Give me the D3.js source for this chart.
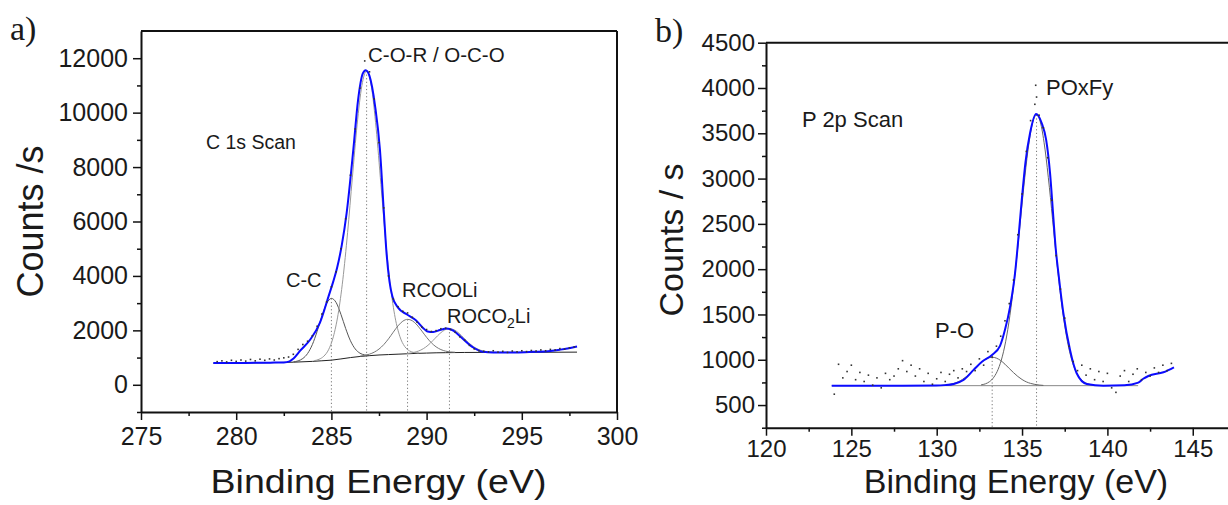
<!DOCTYPE html>
<html>
<head>
<meta charset="utf-8">
<script src="https://cdn.jsdelivr.net/npm/d3@7"></script>
<style>
  body { margin: 0; background: #fff; }
  svg { display: block; }
  text { font-family: "Liberation Sans", Arial, sans-serif; fill: #1a1a1a; }
</style>
</head>
<body>
<svg id="chart" width="1228" height="505"></svg>
<script>
// ---------- C 1s spectrum (panel a) ----------
const c1sXTicks = [275, 280, 285, 290, 295, 300];
const c1sXMinor = [277.5, 282.5, 287.5, 292.5, 297.5];
const c1sYTicks = [0, 2000, 4000, 6000, 8000, 10000, 12000];
const c1sYMinor = [-1000, 1000, 3000, 5000, 7000, 9000, 11000];

// fitted envelope
const c1sFitEnergy = [278.8, 279.5, 280.5, 281.5, 282.0, 282.5, 282.8, 283.0, 283.35, 283.9, 284.4, 284.85, 285.1, 285.3, 285.55, 285.8, 286.15, 286.4, 286.65, 286.8, 287.0, 287.3, 287.55, 287.75, 287.9, 288.05, 288.2, 288.5, 288.95, 289.45, 289.8, 290.05, 290.35, 290.7, 291.05, 291.4, 291.9, 292.45, 292.95, 293.5, 294.7, 295.6, 296.5, 297.0, 297.4, 297.9];
const c1sFitCounts = [800, 802, 805, 810, 815, 822, 860, 960, 1245, 1673, 2285, 3250, 3800, 4300, 5150, 6310, 8630, 10460, 11440, 11560, 11350, 10215, 8630, 6400, 4800, 3800, 3250, 2834, 2590, 2360, 2100, 1960, 1940, 2010, 2065, 1990, 1690, 1370, 1215, 1190, 1186, 1210, 1245, 1290, 1333, 1406];

// background
const c1sBgEnergy = [278.8, 280, 281, 282, 283, 284, 284.5, 285, 285.5, 286, 286.5, 287, 287.5, 288, 288.5, 289, 289.5, 290, 290.5, 291, 292, 293, 295, 297.9];
const c1sBgCounts = [795, 800, 805, 815, 830, 860, 882, 905, 950, 1000, 1040, 1070, 1095, 1110, 1125, 1140, 1155, 1165, 1175, 1180, 1188, 1190, 1192, 1200];

// component peaks (on top of background)
const ccEnergy = [283.0, 283.25, 283.5, 283.75, 284.0, 284.25, 284.5, 284.75, 285.0, 285.25, 285.5, 285.75, 286.0, 286.25, 286.5, 286.75, 287.0];
const ccCounts = [840, 879, 966, 1150, 1478, 1962, 2522, 2986, 3175, 3021, 2590, 2067, 1618, 1318, 1161, 1097, 1075];

const corEnergy = [284.1, 284.35, 284.6, 284.85, 285.1, 285.35, 285.6, 285.85, 286.1, 286.35, 286.6, 286.85, 287.1, 287.35, 287.6, 287.85, 288.1, 288.35, 288.6, 288.85, 289.1, 289.35, 289.6];
const corCounts = [886, 937, 1049, 1286, 1760, 2585, 3859, 5589, 7604, 9551, 10992, 11532, 10964, 9421, 7363, 5308, 3627, 2462, 1767, 1407, 1246, 1185, 1170];

const rcooliEnergy = [286.5, 286.75, 287.0, 287.25, 287.5, 287.75, 288.0, 288.25, 288.5, 288.75, 289.0, 289.25, 289.5, 289.75, 290.0, 290.25, 290.5, 290.75, 291.0, 291.25, 291.5];
const rcooliCounts = [1050, 1079, 1126, 1199, 1313, 1476, 1689, 1933, 2166, 2337, 2405, 2352, 2196, 1975, 1744, 1543, 1393, 1294, 1236, 1207, 1195];

const rocoEnergy = [288.95, 289.2, 289.45, 289.7, 289.95, 290.2, 290.45, 290.7, 290.95, 291.2, 291.45, 291.7, 291.95, 292.2, 292.45, 292.7, 292.95, 293.2, 293.45];
const rocoCounts = [1148, 1172, 1211, 1278, 1383, 1532, 1710, 1884, 2015, 2065, 2020, 1893, 1723, 1551, 1409, 1308, 1248, 1215, 1200];

// peak centres and heights for the drop lines
const c1sPeakEnergy = [285.0, 286.85, 289.0, 291.2];
const c1sPeakCounts = [3175, 11532, 2405, 2065];

// measured points
const c1sRawEnergy = [279.0, 279.25, 279.5, 279.75, 280.0, 280.25, 280.5, 280.75, 281.0, 281.25, 281.5, 281.75, 282.0, 282.25, 282.5, 282.75, 283.0, 283.25, 283.5, 283.75, 284.0, 284.25, 284.5, 284.75, 285.0, 285.25, 285.5, 285.75, 286.0, 286.25, 286.5, 286.75, 287.0, 287.25, 287.5, 287.75, 288.0, 288.25, 288.5, 288.75, 289.0, 289.25, 289.5, 289.75, 290.0, 290.25, 290.5, 290.75, 291.0, 291.25, 291.5, 291.75, 292.0, 292.25, 292.5, 292.75, 293.0, 293.25, 293.5, 293.75, 294.0, 294.25, 294.5, 294.75, 295.0, 295.25, 295.5, 295.75, 296.0, 296.25, 296.5, 296.75, 297.0, 297.25, 297.5, 297.75];
const c1sRawCounts = [850, 880, 840, 900, 860, 910, 870, 930, 880, 940, 900, 950, 910, 960, 990, 1020, 1120, 1300, 1480, 1600, 1800, 2150, 2600, 3050, 3600, 4150, 5000, 6100, 7700, 9400, 10900, 11900, 11500, 10500, 8900, 6500, 4000, 3150, 2870, 2700, 2640, 2480, 2300, 2120, 2030, 1960, 1990, 2060, 2080, 2030, 1930, 1760, 1640, 1450, 1320, 1250, 1230, 1210, 1250, 1200, 1230, 1190, 1240, 1210, 1250, 1220, 1260, 1240, 1280, 1250, 1300, 1280, 1330, 1310, 1360, 1390];

// ---------- P 2p spectrum (panel b) ----------
const p2pXTicks = [120, 125, 130, 135, 140, 145];
const p2pXMinor = [122.5, 127.5, 132.5, 137.5, 142.5];
const p2pYTicks = [500, 1000, 1500, 2000, 2500, 3000, 3500, 4000, 4500];
const p2pYMinor = [250, 750, 1250, 1750, 2250, 2750, 3250, 3750, 4250];

const p2pFitEnergy = [123.85, 126, 128, 130, 130.5, 131.0, 131.57, 132.16, 132.65, 133.24, 133.71, 134.0, 134.3, 134.59, 134.8, 135.0, 135.2, 135.47, 135.82, 136.15, 136.41, 136.64, 136.83, 136.97, 137.13, 137.42, 137.81, 138.2, 138.79, 139.76, 141.0, 141.81, 142.1, 142.4, 143.28, 143.9];
const p2pFitCounts = [714, 714, 714, 716, 720, 733, 777, 888, 979, 1053, 1153, 1330, 1587, 1956, 2370, 2800, 3180, 3503, 3713, 3614, 3430, 3061, 2581, 2232, 1956, 1514, 1109, 851, 733, 714, 718, 747, 790, 821, 862, 917];

const p2pBgEnergy = [123.85, 141.8];
const p2pBgCounts = [714, 714];

const poEnergy = [130.25, 130.5, 130.75, 131.0, 131.25, 131.5, 131.75, 132.0, 132.25, 132.5, 132.75, 133.0, 133.25, 133.5, 133.75, 134.0, 134.25, 134.5, 134.75, 135.0, 135.25, 135.5, 135.75, 136.0, 136.25];
const poCounts = [717, 721, 728, 739, 756, 782, 816, 858, 904, 951, 991, 1018, 1028, 1018, 991, 951, 904, 858, 816, 782, 756, 739, 728, 721, 717];

const poxfyEnergy = [132.6, 132.85, 133.1, 133.35, 133.6, 133.85, 134.1, 134.35, 134.6, 134.85, 135.1, 135.35, 135.6, 135.85, 136.1, 136.35, 136.6, 136.85, 137.1, 137.35, 137.6, 137.85, 138.1, 138.35, 138.6, 138.85, 139.1];
const poxfyCounts = [723, 734, 759, 808, 895, 1040, 1262, 1574, 1972, 2432, 2904, 3317, 3602, 3704, 3602, 3317, 2904, 2432, 1972, 1574, 1262, 1040, 895, 808, 759, 734, 723];

const p2pPeakEnergy = [133.25, 135.85];
const p2pPeakCounts = [1028, 3704];

const p2pRawEnergy = [124.0, 124.25, 124.5, 124.75, 125.0, 125.25, 125.5, 125.75, 126.0, 126.25, 126.5, 126.75, 127.0, 127.25, 127.5, 127.75, 128.0, 128.25, 128.5, 128.75, 129.0, 129.25, 129.5, 129.75, 130.0, 130.25, 130.5, 130.75, 131.0, 131.25, 131.5, 131.75, 132.0, 132.25, 132.5, 132.75, 133.0, 133.25, 133.5, 133.75, 134.0, 134.25, 134.5, 134.75, 135.0, 135.25, 135.5, 135.75, 135.8, 135.85, 136.0, 136.25, 136.5, 136.75, 137.0, 137.25, 137.5, 137.75, 138.0, 138.25, 138.5, 138.75, 139.0, 139.25, 139.5, 139.75, 140.0, 140.25, 140.5, 140.75, 141.0, 141.25, 141.5, 141.75, 142.0, 142.25, 142.5, 142.75, 143.0, 143.25, 143.5, 143.75];
const p2pRawCounts = [620, 950, 800, 870, 940, 780, 860, 760, 830, 720, 800, 690, 850, 780, 820, 900, 990, 870, 940, 820, 900, 760, 850, 730, 790, 860, 760, 840, 880, 800, 900, 870, 950, 880, 1010, 940, 1090, 1030, 1150, 1260, 1430, 1620, 1880, 2380, 2830, 3300, 3640, 3820, 4030, 3900, 3700, 3560, 3230, 2760, 2150, 1780, 1460, 1150, 980, 880, 940, 830, 900, 780, 870, 760, 850, 690, 640, 820, 880, 760, 840, 900, 780, 860, 820, 910, 860, 940, 880, 960];

const svg = d3.select("#chart");
const zip = (xs, ys) => xs.map((v, i) => [v, ys[i]]);

function drawPanel(p) {
  const x = d3.scaleLinear().domain(p.xDomain).range(p.xRange);
  const y = d3.scaleLinear().domain(p.yDomain).range(p.yRange);
  const g = svg.append("g");
  const yBottom = p.yRange[0], yTop = p.yRange[1];
  const xLeft = p.xRange[0], xRight = p.xRange[1];

  const line = d3.line().x(d => x(d[0])).y(d => y(d[1])).curve(d3.curveMonotoneX);

  // drop lines at the peak centres
  g.selectAll(".drop").data(zip(p.peakEnergy, p.peakCounts)).join("line")
    .attr("x1", d => x(d[0])).attr("x2", d => x(d[0]))
    .attr("y1", d => y(d[1])).attr("y2", yBottom)
    .attr("stroke", "#777").attr("stroke-width", 1).attr("stroke-dasharray", "1.2,2.4");

  // background and components
  g.append("path").attr("d", line(zip(p.bgEnergy, p.bgCounts)))
    .attr("fill", "none").attr("stroke", p.bgColor).attr("stroke-width", 1);
  p.components.forEach(c => {
    g.append("path").attr("d", line(zip(c.energy, c.counts)))
      .attr("fill", "none").attr("stroke", c.color).attr("stroke-width", 1);
  });

  // fitted envelope
  g.append("path").attr("d", line(zip(p.fitEnergy, p.fitCounts)))
    .attr("fill", "none").attr("stroke", "#0b0bff").attr("stroke-width", 2);

  // measured points
  g.selectAll(".pt").data(zip(p.rawEnergy, p.rawCounts)).join("rect")
    .attr("x", d => x(d[0]) - 0.8).attr("y", d => y(d[1]) - 0.8)
    .attr("width", 1.6).attr("height", 1.6).attr("fill", "#333");

  // frame lines without ticks
  g.append("line").attr("x1", xLeft).attr("x2", xRight).attr("y1", yTop).attr("y2", yTop)
    .attr("stroke", "#111").attr("stroke-width", 2);
  if (p.rightFrame) {
    g.append("line").attr("x1", xRight).attr("x2", xRight).attr("y1", yTop).attr("y2", yBottom)
      .attr("stroke", "#111").attr("stroke-width", 2);
  }

  // axes
  const styleAxis = (sel, size) => {
    sel.attr("font-family", '"Liberation Sans", Arial, sans-serif').attr("font-size", size);
    sel.select(".domain").attr("stroke", "#111").attr("stroke-width", 2);
    sel.selectAll(".tick line").attr("stroke", "#111").attr("stroke-width", 1.5);
    sel.selectAll(".tick text").attr("fill", "#1a1a1a");
  };
  const gx = g.append("g").attr("transform", `translate(0,${yBottom})`)
    .call(d3.axisBottom(x).tickValues(p.xTicks).tickSize(8).tickPadding(p.xPad).tickSizeOuter(0).tickFormat(d3.format("d")));
  styleAxis(gx, p.tickSize);
  const gxm = g.append("g").attr("transform", `translate(0,${yBottom})`)
    .call(d3.axisBottom(x).tickValues(p.xMinor).tickSize(4).tickSizeOuter(0).tickFormat(""));
  gxm.select(".domain").remove();
  gxm.selectAll(".tick line").attr("stroke", "#111").attr("stroke-width", 1.5);

  const gy = g.append("g").attr("transform", `translate(${xLeft},0)`)
    .call(d3.axisLeft(y).tickValues(p.yTicks).tickSize(8).tickPadding(p.yPad).tickSizeOuter(0).tickFormat(d3.format("d")));
  styleAxis(gy, p.tickSize);
  const gym = g.append("g").attr("transform", `translate(${xLeft},0)`)
    .call(d3.axisLeft(y).tickValues(p.yMinor).tickSize(4).tickSizeOuter(0).tickFormat(""));
  gym.select(".domain").remove();
  gym.selectAll(".tick line").attr("stroke", "#111").attr("stroke-width", 1.5);

  // axis titles
  const xt = g.append("text").attr("x", p.xTitlePos[0]).attr("y", p.xTitlePos[1])
    .attr("text-anchor", "middle").attr("font-size", p.xTitleSize).text("Binding Energy (eV)");
  if (p.xTitleLength) xt.attr("textLength", p.xTitleLength).attr("lengthAdjust", "spacingAndGlyphs");
  g.append("text").attr("transform", `translate(${p.yTitlePos[0]},${p.yTitlePos[1]}) rotate(-90)`)
    .attr("text-anchor", "middle").attr("font-size", p.yTitleSize).text(p.yTitle);

  // panel letter
  g.append("text").attr("x", p.letterPos[0]).attr("y", p.letterPos[1])
    .style("font-family", '"Liberation Serif", "Times New Roman", serif')
    .attr("font-size", 34).text(p.letter);

  // annotations
  p.labels.forEach(l => {
    const t = g.append("text").attr("x", l.x).attr("y", l.y).attr("font-size", l.size);
    if (l.sub) {
      t.append("tspan").text(l.text);
      t.append("tspan").attr("font-size", l.size * 0.7).attr("dy", 5).text(l.sub);
      t.append("tspan").attr("dy", -5).text(l.after);
    } else {
      t.text(l.text);
    }
  });
}

drawPanel({
  xDomain: [275, 300], xRange: [141, 617],
  yDomain: [-1000, 13000], yRange: [412, 31],
  xTicks: c1sXTicks, xMinor: c1sXMinor, yTicks: c1sYTicks, yMinor: c1sYMinor,
  xPad: 7, yPad: 5, tickSize: 25, rightFrame: true,
  fitEnergy: c1sFitEnergy, fitCounts: c1sFitCounts,
  bgEnergy: c1sBgEnergy, bgCounts: c1sBgCounts, bgColor: "#222",
  components: [
    { energy: ccEnergy, counts: ccCounts, color: "#555" },
    { energy: corEnergy, counts: corCounts, color: "#999" },
    { energy: rcooliEnergy, counts: rcooliCounts, color: "#777" },
    { energy: rocoEnergy, counts: rocoCounts, color: "#999" }
  ],
  peakEnergy: c1sPeakEnergy, peakCounts: c1sPeakCounts,
  rawEnergy: c1sRawEnergy, rawCounts: c1sRawCounts,
  xTitlePos: [378.5, 493], xTitleSize: 34, xTitleLength: 336,
  yTitle: "Counts /s", yTitlePos: [43, 221.5], yTitleSize: 36,
  letter: "a)", letterPos: [10, 40],
  labels: [
    { text: "C 1s Scan", x: 206, y: 149, size: 19.5 },
    { text: "C-O-R / O-C-O", x: 368, y: 62, size: 20.5 },
    { text: "C-C", x: 286, y: 287, size: 20 },
    { text: "RCOOLi", x: 402, y: 297, size: 20 },
    { text: "ROCO", sub: "2", after: "Li", x: 447, y: 323, size: 20 }
  ]
});

drawPanel({
  xDomain: [120, 150], xRange: [766, 1278.1],
  yDomain: [250, 4500], yRange: [427.7, 42.7],
  xTicks: p2pXTicks, xMinor: p2pXMinor, yTicks: p2pYTicks, yMinor: p2pYMinor,
  xPad: 4, yPad: 3, tickSize: 24, rightFrame: false,
  fitEnergy: p2pFitEnergy, fitCounts: p2pFitCounts,
  bgEnergy: p2pBgEnergy, bgCounts: p2pBgCounts, bgColor: "#888",
  components: [
    { energy: poEnergy, counts: poCounts, color: "#666" },
    { energy: poxfyEnergy, counts: poxfyCounts, color: "#666" }
  ],
  peakEnergy: p2pPeakEnergy, peakCounts: p2pPeakCounts,
  rawEnergy: p2pRawEnergy, rawCounts: p2pRawCounts,
  xTitlePos: [1016, 493], xTitleSize: 34, xTitleLength: null,
  yTitle: "Counts / s", yTitlePos: [683, 240], yTitleSize: 34,
  letter: "b)", letterPos: [655, 42],
  labels: [
    { text: "P 2p Scan", x: 802, y: 127, size: 22 },
    { text: "POxFy", x: 1046, y: 95, size: 22 },
    { text: "P-O", x: 935, y: 338, size: 22 }
  ]
});
</script>
</body>
</html>
